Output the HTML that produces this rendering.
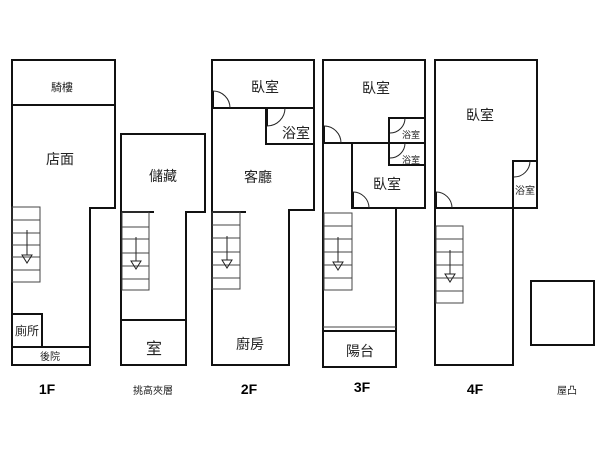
<!DOCTYPE html>
<html><head><meta charset="utf-8"><style>
html,body{margin:0;padding:0;background:#fff;}
svg{display:block;}
text{font-family:"Liberation Sans","Noto Sans CJK TC",sans-serif;fill:#222;text-anchor:middle;}
.w{stroke:#111;stroke-width:2;fill:none;}
.s{stroke:#444;stroke-width:1;fill:none;}
.a{stroke:#222;stroke-width:1;fill:none;}
.b{font-weight:bold;font-size:14px;fill:#000;}
</style></head><body>
<svg width="600" height="450" viewBox="0 0 600 450">
<!-- 1F -->
<path class="w" d="M12 60 H115 V208 H90 V365 H12 Z"/>
<line class="w" x1="12" y1="105" x2="115" y2="105"/>
<line class="w" x1="12" y1="347" x2="90" y2="347"/>
<path class="w" d="M12 314 H42 V347"/>
<g class="s"><rect x="12" y="207" width="28" height="75"/>
<line x1="12" y1="220" x2="40" y2="220"/><line x1="12" y1="233" x2="40" y2="233"/><line x1="12" y1="245" x2="40" y2="245"/><line x1="12" y1="257" x2="40" y2="257"/><line x1="12" y1="270" x2="40" y2="270"/></g>
<line class="a" x1="27" y1="230" x2="27" y2="255"/><path class="a" d="M22 255 H32 L27 263 Z"/>
<text x="62" y="91" font-size="11">騎樓</text>
<text x="60" y="164" font-size="14">店面</text>
<text x="27" y="335" font-size="12">廁所</text>
<text x="50" y="360" font-size="10">後院</text>
<text x="47" y="394" class="b">1F</text>

<!-- mezz -->
<path class="w" d="M121 134 H205 V212 H186 V365 H121 Z"/>
<line class="w" x1="121" y1="320" x2="186" y2="320"/>
<line class="w" x1="121" y1="212" x2="154" y2="212"/>
<g class="s"><rect x="122" y="212" width="27" height="78"/>
<line x1="122" y1="227" x2="149" y2="227"/><line x1="122" y1="239" x2="149" y2="239"/><line x1="122" y1="253" x2="149" y2="253"/><line x1="122" y1="266" x2="149" y2="266"/><line x1="122" y1="279" x2="149" y2="279"/></g>
<line class="a" x1="136" y1="237" x2="136" y2="261"/><path class="a" d="M131 261 H141 L136 269 Z"/>
<text x="163" y="181" font-size="14">儲藏</text>
<text x="154" y="354" font-size="16">室</text>
<text x="153" y="394" font-size="10">挑高夾層</text>

<!-- 2F -->
<path class="w" d="M212 60 H314 V210 H289 V365 H212 Z"/>
<line class="w" x1="212" y1="108" x2="314" y2="108"/>
<path class="w" d="M266 108 V144 H314"/>
<line class="w" x1="212" y1="212" x2="246" y2="212"/>
<line class="w" x1="213" y1="91" x2="213" y2="108"/><path class="a" d="M213 91 A17 17 0 0 1 230 108"/>
<line class="w" x1="267" y1="108" x2="267" y2="126"/><path class="a" d="M267 126 A18 18 0 0 0 285 108"/>
<g class="s"><rect x="212" y="212" width="28" height="77"/>
<line x1="212" y1="225" x2="240" y2="225"/><line x1="212" y1="238" x2="240" y2="238"/><line x1="212" y1="252" x2="240" y2="252"/><line x1="212" y1="265" x2="240" y2="265"/><line x1="212" y1="278" x2="240" y2="278"/></g>
<line class="a" x1="227" y1="236" x2="227" y2="260"/><path class="a" d="M222 260 H232 L227 268 Z"/>
<text x="265" y="92" font-size="14">臥室</text>
<text x="296" y="138" font-size="14">浴室</text>
<text x="258" y="182" font-size="14">客廳</text>
<text x="250" y="349" font-size="14">廚房</text>
<text x="249" y="394" class="b">2F</text>

<!-- 3F -->
<path class="w" d="M323 60 H425 V208 H396 V367 H323 Z"/>
<line class="w" x1="323" y1="143" x2="425" y2="143"/>
<path class="w" d="M352 143 V208 H396"/>
<path class="w" d="M425 118 H389 V165 H425"/>
<line class="s" x1="323" y1="327" x2="396" y2="327"/><line class="w" x1="323" y1="331" x2="396" y2="331"/>
<line class="w" x1="324" y1="126" x2="324" y2="143"/><path class="a" d="M324 126 A17 17 0 0 1 341 143"/>
<line class="w" x1="353" y1="192" x2="353" y2="208"/><path class="a" d="M353 192 A16 16 0 0 1 369 208"/>
<path class="a" d="M405 118 A15 15 0 0 1 390 133"/>
<path class="a" d="M405 143 A15 15 0 0 1 390 158"/>
<g class="s"><rect x="324" y="213" width="28" height="77"/>
<line x1="324" y1="226" x2="352" y2="226"/><line x1="324" y1="239" x2="352" y2="239"/><line x1="324" y1="252" x2="352" y2="252"/><line x1="324" y1="265" x2="352" y2="265"/><line x1="324" y1="278" x2="352" y2="278"/></g>
<line class="a" x1="338" y1="237" x2="338" y2="262"/><path class="a" d="M333 262 H343 L338 270 Z"/>
<text x="376" y="93" font-size="14">臥室</text>
<text x="411" y="138" font-size="9">浴室</text>
<text x="411" y="163" font-size="9">浴室</text>
<text x="387" y="189" font-size="14">臥室</text>
<text x="360" y="356" font-size="14">陽台</text>
<text x="362" y="392" class="b">3F</text>

<!-- 4F -->
<path class="w" d="M435 60 H537 V208 H435 Z"/>
<path class="w" d="M435 208 V365 H513 V161 H537"/>
<line class="w" x1="436" y1="192" x2="436" y2="208"/><path class="a" d="M436 192 A16 16 0 0 1 452 208"/>
<path class="a" d="M514 177 A16 16 0 0 0 530 161"/>
<g class="s"><rect x="436" y="226" width="27" height="77"/>
<line x1="436" y1="239" x2="463" y2="239"/><line x1="436" y1="252" x2="463" y2="252"/><line x1="436" y1="265" x2="463" y2="265"/><line x1="436" y1="278" x2="463" y2="278"/><line x1="436" y1="291" x2="463" y2="291"/></g>
<line class="a" x1="450" y1="250" x2="450" y2="274"/><path class="a" d="M445 274 H455 L450 282 Z"/>
<text x="480" y="120" font-size="14">臥室</text>
<text x="525" y="194" font-size="10">浴室</text>
<text x="475" y="394" class="b">4F</text>

<!-- roof -->
<rect class="w" x="531" y="281" width="63" height="64"/>
<text x="567" y="394" font-size="10">屋凸</text>
</svg>
</body></html>
